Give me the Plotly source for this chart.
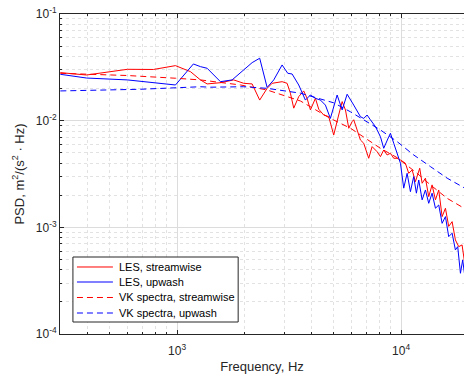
import numpy as np
import plotly.graph_objects as go

# ---- Data ----
les_stream_f = [301, 394, 600, 784, 983, 1147, 1271, 1361, 1561, 1789, 1983, 2162, 2337, 2522, 2655,
                2942, 3097, 3204, 3316, 3490, 3673, 3803, 3937, 4143, 4288, 4512, 4751, 5001, 5263,
                5455, 5643, 5839, 6043, 6143, 6362, 6580, 6808, 7048, 7166, 7421, 7811, 8084, 8363,
                8659, 8960, 9268, 9598, 9931, 10448, 10813, 11200, 11580, 12106, 12410, 12840, 13280,
                13750, 14230, 14720, 15240, 15770, 16310, 16890, 17470, 18080, 18710, 19170]
les_stream_p = [0.0282, 0.0268, 0.0303, 0.0302, 0.0328, 0.0288, 0.0241, 0.0221, 0.0227, 0.0241,
                0.0224, 0.0221, 0.0156, 0.0201, 0.0224, 0.0232, 0.0224, 0.0181, 0.0131, 0.0168,
                0.0190, 0.0162, 0.0126, 0.0162, 0.0128, 0.0113, 0.0109, 0.00734, 0.0113, 0.0151,
                0.0126, 0.00849, 0.00979, 0.0102, 0.00818, 0.00659, 0.00614, 0.00495, 0.00444,
                0.00571, 0.00512, 0.00460, 0.00531, 0.00477, 0.00495, 0.00444, 0.00444, 0.00428,
                0.00399, 0.00321, 0.00345, 0.00268, 0.00358, 0.00259, 0.00289, 0.00194, 0.00250,
                0.00181, 0.00224, 0.00126, 0.00151, 0.00102, 0.00113, 0.000762, 0.000659,
                0.000684, 0.00048]

les_up_f = [301, 394, 600, 983, 1182, 1271, 1361, 1561, 1760, 1983, 2162, 2337, 2522, 2700, 2942,
            3119, 3260, 3490, 3738, 3937, 4143, 4363, 4592, 4833, 5180, 5455, 5741, 6143, 6580,
            6808, 7048, 7291, 7681, 8084, 8363, 8810, 8960, 9268, 9755, 9931, 10271, 10636, 11004,
            11380, 11700, 11985, 12410, 12840, 13280, 13750, 14230, 14720, 15240, 15770, 16310,
            16890, 17470, 17890, 18400, 18830, 19170]
les_up_p = [0.0272, 0.0251, 0.0241, 0.0216, 0.0340, 0.0321, 0.0310, 0.0232, 0.0241, 0.0299, 0.0350,
            0.0385, 0.0205, 0.0241, 0.0333, 0.0278, 0.0274, 0.0216, 0.0156, 0.0174, 0.0162, 0.0156,
            0.0140, 0.0105, 0.0174, 0.0126, 0.0177, 0.0140, 0.0109, 0.0105, 0.0113, 0.0102,
            0.00879, 0.00708, 0.00551, 0.00708, 0.00762, 0.00614, 0.00460, 0.00399, 0.00233,
            0.00321, 0.00216, 0.00299, 0.00209, 0.00278, 0.00181, 0.00224, 0.00168, 0.00209,
            0.00151, 0.00162, 0.00109, 0.00126, 0.000818, 0.000881, 0.000614, 0.000659,
            0.000371, 0.000495, 0.000371]

vk_stream_f = [301, 600, 983, 1271, 1918, 2522, 3551, 4833, 5943, 8084, 9598, 11790, 13515, 16050, 19100]
vk_stream_p = [0.0278, 0.0265, 0.0250, 0.0241, 0.0216, 0.0194, 0.0153, 0.0105, 0.00849, 0.00551,
               0.00450, 0.00321, 0.00250, 0.00187, 0.00151]

vk_up_f = [301, 685, 1271, 1408, 1983, 2522, 3551, 5001, 5943, 6808, 8084, 9598, 11380, 13515, 16050, 19100]
vk_up_p = [0.0190, 0.0197, 0.0208, 0.0206, 0.0208, 0.0201, 0.0181, 0.0147, 0.0121, 0.0102, 0.00818,
           0.00636, 0.00477, 0.00371, 0.00289, 0.00235]

series_names = ["LES, streamwise", "LES, upwash", "VK spectra, streamwise", "VK spectra, upwash"]

x_ticks = [1e3, 1e4]
x_tick_text = ["10<sup>3</sup>", "10<sup>4</sup>"]
y_ticks = [1e-4, 1e-3, 1e-2, 1e-1]
y_tick_text = ["10<sup>-4</sup>", "10<sup>-3</sup>", "10<sup>-2</sup>", "10<sup>-1</sup>"]

FONT = "Liberation Sans, Arial, sans-serif"
AX = "#262626"
RED = "#ff0000"
BLUE = "#0000ff"
DASH = "6px,4px"

styles = [dict(color=RED, width=1), dict(color=BLUE, width=1),
          dict(color=RED, width=1, dash=DASH), dict(color=BLUE, width=1, dash=DASH)]
data = [(les_stream_f, les_stream_p), (les_up_f, les_up_p),
        (vk_stream_f, vk_stream_p), (vk_up_f, vk_up_p)]

fig = go.Figure()
for (fx, py), name, st in zip(data, series_names, styles):
    fig.add_trace(go.Scatter(x=fx, y=py, mode="lines", name=name, line=st, showlegend=False))

x_minor = [m * 10 ** e for e in (2, 3, 4) for m in range(2, 10)]
y_minor = [m * 10.0 ** e for e in (-4, -3, -2) for m in range(2, 10)]

fig.update_xaxes(type="log", range=[np.log10(300), np.log10(300) + 404 / 224], automargin=False,
                 tickvals=x_ticks, ticktext=x_tick_text, ticks="inside", ticklen=4,
                 tickcolor=AX, showline=True, linecolor=AX, linewidth=1, mirror="ticks",
                 showgrid=True, gridcolor="#dcdcdc", gridwidth=1, zeroline=False,
                 ticklabelstandoff=6,
                 tickfont=dict(family=FONT, size=12, color=AX),
                 minor=dict(tickvals=x_minor, ticks="inside", ticklen=2, tickcolor=AX,
                            showgrid=True, gridcolor="#e2e2e2", griddash="dot", gridwidth=1),
                 title=dict(text="Frequency, Hz", font=dict(family=FONT, size=13, color=AX), standoff=4))
fig.update_yaxes(type="log", range=[-4, -1], automargin=False,
                 tickvals=y_ticks, ticktext=y_tick_text, ticks="inside", ticklen=4,
                 tickcolor=AX, showline=True, linecolor=AX, linewidth=1, mirror=False,
                 showgrid=True, gridcolor="#dcdcdc", gridwidth=1, zeroline=False,
                 tickfont=dict(family=FONT, size=12, color=AX),
                 minor=dict(tickvals=y_minor, ticks="inside", ticklen=2, tickcolor=AX,
                            showgrid=True, gridcolor="#e2e2e2", griddash="dot", gridwidth=1),
                 title=dict(text="PSD, m<sup>2</sup>/(s<sup>2</sup> · Hz)",
                            font=dict(family=FONT, size=13, color=AX), standoff=8))

# ---- custom legend (box, line samples, labels) in axis-domain coordinates ----
shapes = [dict(type="rect", xref="x domain", yref="y domain", x0=0.032, x1=0.441, y0=0.0375, y1=0.2406,
               line=dict(color=AX, width=1), fillcolor="white", layer="above")]
annotations = []
row_y = [0.2094, 0.1625, 0.1141, 0.0656]
for ry, name, st in zip(row_y, series_names, styles):
    shapes.append(dict(type="line", xref="x domain", yref="y domain", x0=0.042, x1=0.131, y0=ry, y1=ry,
                       line=st, layer="above"))
    annotations.append(dict(xref="x domain", yref="y domain", x=0.141, y=ry, text=name, showarrow=False,
                            xanchor="left", yanchor="middle",
                            font=dict(family=FONT, size=11, color="#000000")))

fig.update_layout(
    width=464, height=381,
    margin=dict(l=60, r=0, t=14, b=47),
    paper_bgcolor="white", plot_bgcolor="white",
    showlegend=False, hovermode=False,
    shapes=shapes, annotations=annotations,
)

fig.write_html("out.html", config={"displayModeBar": False, "staticPlot": True},
               post_script="document.body.style.margin='0';document.body.style.overflow='hidden';")
